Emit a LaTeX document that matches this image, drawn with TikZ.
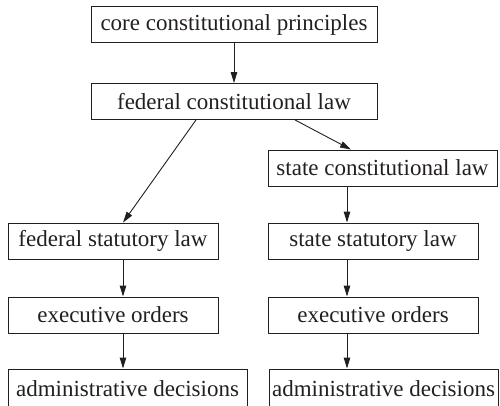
\documentclass[tikz,border=0pt]{standalone}
\usepackage{fontspec}
\setmainfont{Liberation Serif}
\usetikzlibrary{arrows.meta}
\definecolor{ink}{HTML}{231F20}
\begin{document}
\begin{tikzpicture}[x=1pt,y=-1pt,
  box/.style={draw=ink,line width=0.9pt,text=ink,inner sep=0pt,minimum height=36pt,
    font=\fontsize{23}{26}\selectfont,anchor=center},
  conn/.style={draw=ink,line width=0.9pt,-{Triangle[length=11pt,width=6.5pt]}}]
\useasboundingbox (0,0) rectangle (500,405);
\node[box,minimum width=286pt] (core) at (234,24.5) {core constitutional principles};
\node[box,minimum width=286pt] (fcl) at (234,101.5) {federal constitutional law};
\node[box,minimum width=229pt] (scl) at (382.5,168) {state constitutional law};
\node[box,minimum width=210pt] (fsl) at (113,241) {federal statutory law};
\node[box,minimum width=210pt] (ssl) at (373,241) {state statutory law};
\node[box,minimum width=210pt] (eol) at (113,315) {executive orders};
\node[box,minimum width=210pt] (eor) at (373,315) {executive orders};
\node[box,minimum width=239pt,minimum height=40pt] (adl) at (127.5,389) {administrative decisions};
\node[box,minimum width=229pt,minimum height=40pt] (adr) at (383.5,389) {administrative decisions};
\draw[conn] (core.south) -- (fcl.north);
\draw[conn] ([xshift=-38pt]fcl.south) -- ([xshift=10pt]fsl.north);
\draw[conn] ([xshift=61pt]fcl.south) -- ([xshift=-31.5pt]scl.north);
\draw[conn] ([xshift=-35.5pt]scl.south) -- ([xshift=-26pt]ssl.north);
\draw[conn] ([xshift=10pt]fsl.south) -- ([xshift=10pt]eol.north);
\draw[conn] ([xshift=-26pt]ssl.south) -- ([xshift=-26pt]eor.north);
\draw[conn] ([xshift=10pt]eol.south) -- ([xshift=-4.5pt]adl.north);
\draw[conn] ([xshift=-26pt]eor.south) -- ([xshift=-36.5pt]adr.north);
\end{tikzpicture}
\end{document}
